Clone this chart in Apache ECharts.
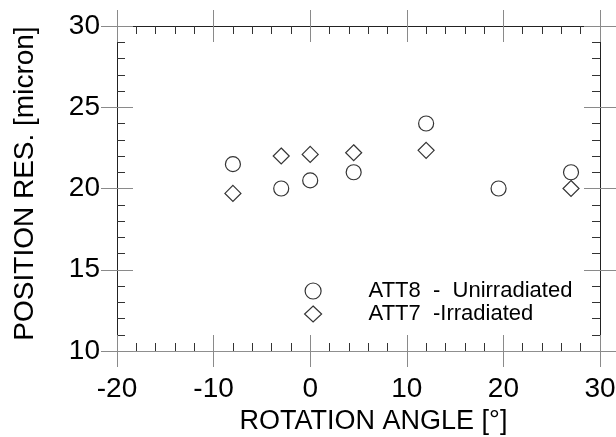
<!DOCTYPE html>
<html>
<head>
<meta charset="utf-8">
<script src="https://cdn.jsdelivr.net/npm/echarts@6/dist/echarts.min.js"></script>
<style>
html,body{margin:0;padding:0;background:#fff;}
#c{width:616px;height:437px;}
</style>
</head>
<body>
<div id="c"></div>
<script>
// ---- data ----
const att8Angles = [-8, -3, 0, 4.5, 12, 19.5, 27];
const att8Res    = [21.5, 20.0, 20.5, 21.0, 24.0, 20.0, 21.0];
const att7Angles = [-8, -3, 0, 4.5, 12, 27];
const att7Res    = [19.7, 22.0, 22.1, 22.2, 22.35, 20.0];
const seriesNames = ['ATT8  -  Unirradiated', 'ATT7  -Irradiated'];
const xTitle = 'ROTATION ANGLE [°]';
const yTitle = 'POSITION RES. [micron]';
const xRange = [-20, 30, 10];
const yRange = [10, 30, 5];

const FONT = '"Liberation Sans", Arial, Helvetica, sans-serif';
const majorColor = '#8a8a8a';
const minorColor = '#333';
const lineColor = '#222';

function zip(a, b) { return a.map((v, i) => [v, b[i]]); }

function axisPair(kind, pos, range, withLabels) {
  const base = { type: 'value', min: range[0], max: range[1], interval: range[2], position: pos, splitLine: { show: false } };
  const outer = Object.assign({}, base, {
    axisLine: { show: true, onZero: false, lineStyle: { color: (pos === 'bottom') ? '#8f8f8f' : lineColor, width: 1 } },
    axisTick: { show: true, inside: false, length: 16, lineStyle: { color: majorColor, width: 1 } },
    axisLabel: withLabels ? { show: true, fontSize: 28, fontFamily: FONT, color: '#000', margin: kind === 'x' ? 24 : 17 } : { show: false }
  });
  const inner = Object.assign({}, base, {
    axisLine: { show: false, onZero: false },
    axisTick: { show: true, inside: true, length: 16, lineStyle: { color: majorColor, width: 1 } },
    minorTick: { show: true, splitNumber: 5, length: 8, lineStyle: { color: minorColor, width: 1 } },
    axisLabel: { show: false }
  });
  return [outer, inner];
}

const xAxes = axisPair('x', 'bottom', xRange, true).concat(axisPair('x', 'top', xRange, false));
const yAxes = axisPair('y', 'left', yRange, true).concat(axisPair('y', 'right', yRange, false));

xAxes[0].name = xTitle;
xAxes[0].nameLocation = 'middle';
xAxes[0].nameGap = 57;
xAxes[0].nameTextStyle = { fontSize: 27, fontFamily: FONT, color: '#000', padding: [0, 0, 0, 30] };

yAxes[0].name = yTitle;
yAxes[0].nameLocation = 'middle';
yAxes[0].nameGap = 78;
yAxes[0].nameTextStyle = { fontSize: 28, fontFamily: FONT, color: '#000', padding: [0, 0, 0, 10] };

const chart = echarts.init(document.getElementById('c'), null, { renderer: 'canvas' });
chart.setOption({
  animation: false,
  backgroundColor: '#fff',
  grid: { left: 117, right: 16, top: 26, bottom: 86, containLabel: false, outerBoundsMode: 'none' },
  xAxis: xAxes,
  yAxis: yAxes,
  legend: {
    orient: 'vertical',
    left: 304,
    top: 280,
    padding: 0,
    itemWidth: 17,
    itemHeight: 16,
    itemGap: 1,
    data: seriesNames,
    itemStyle: { borderWidth: 1.2 },
    textStyle: { fontSize: 22, fontFamily: FONT, color: '#000', padding: [0, 0, 0, 42] }
  },
  series: [
    {
      name: seriesNames[0], type: 'scatter', xAxisIndex: 0, yAxisIndex: 0,
      symbol: 'circle', symbolSize: 15,
      itemStyle: { color: 'rgba(255,255,255,0)', borderColor: '#000', borderWidth: 1.2 },
      data: zip(att8Angles, att8Res)
    },
    {
      name: seriesNames[1], type: 'scatter', xAxisIndex: 0, yAxisIndex: 0,
      symbol: 'diamond', symbolSize: 16,
      itemStyle: { color: 'rgba(255,255,255,0)', borderColor: '#000', borderWidth: 1.2 },
      data: zip(att7Angles, att7Res)
    }
  ]
});
</script>
</body>
</html>
